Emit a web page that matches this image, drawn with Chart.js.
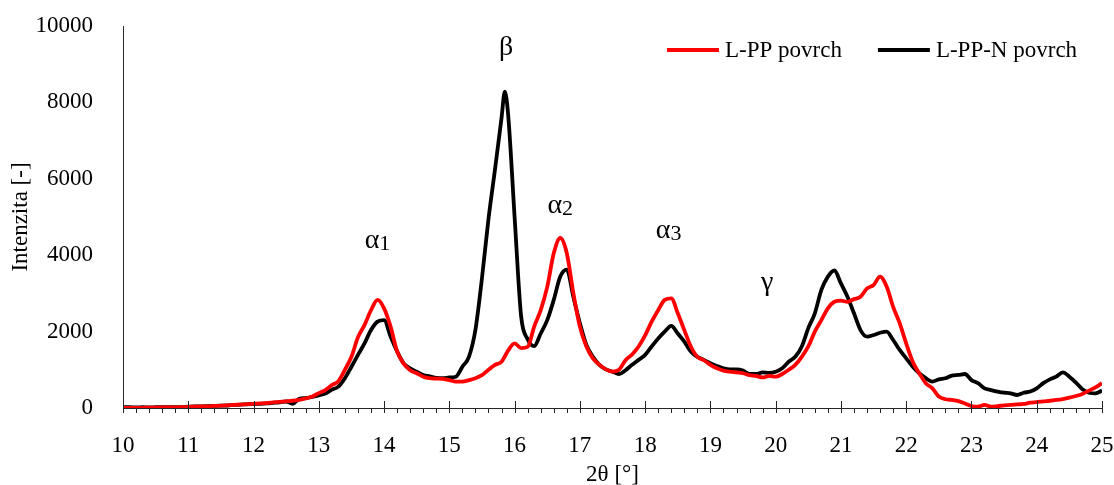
<!DOCTYPE html>
<html>
<head>
<meta charset="utf-8">
<script src="https://cdn.jsdelivr.net/npm/chart.js@4.4.1/dist/chart.umd.min.js"></script>
<style>
  html, body { margin: 0; padding: 0; background: #fff; }
  #xrd { display: block; }
</style>
</head>
<body>
<canvas id="xrd" width="1114" height="485"></canvas>
<script>
/* XRD patterns - L-PP vs L-PP-N surface */

// 2theta positions [deg]
const angles = [
  10.0, 10.1, 10.2, 10.3, 10.4, 10.5, 10.6, 10.7, 10.8, 10.9,
  11.0, 11.1, 11.2, 11.3, 11.4, 11.5, 11.6, 11.7, 11.8, 11.9,
  12.0, 12.1, 12.2, 12.3, 12.4, 12.5, 12.6, 12.7, 12.8, 12.9,
  13.0, 13.1, 13.2, 13.3, 13.4, 13.5, 13.6, 13.7, 13.8, 13.9,
  14.0, 14.1, 14.2, 14.3, 14.4, 14.5, 14.6, 14.7, 14.8, 14.9,
  15.0, 15.1, 15.2, 15.3, 15.4, 15.5, 15.6, 15.7, 15.8, 15.85, 15.9,
  16.0, 16.1, 16.2, 16.3, 16.4, 16.5, 16.6, 16.7, 16.8, 16.9,
  17.0, 17.1, 17.2, 17.3, 17.4, 17.5, 17.6, 17.7, 17.8, 17.9,
  18.0, 18.1, 18.2, 18.3, 18.4, 18.5, 18.6, 18.7, 18.8, 18.9,
  19.0, 19.1, 19.2, 19.3, 19.4, 19.5, 19.6, 19.7, 19.8, 19.9,
  20.0, 20.1, 20.2, 20.3, 20.4, 20.5, 20.6, 20.7, 20.8, 20.9,
  21.0, 21.1, 21.2, 21.3, 21.4, 21.5, 21.6, 21.7, 21.8, 21.9,
  22.0, 22.1, 22.2, 22.3, 22.4, 22.5, 22.6, 22.7, 22.8, 22.9,
  23.0, 23.1, 23.2, 23.3, 23.4, 23.5, 23.6, 23.7, 23.8, 23.9,
  24.0, 24.1, 24.2, 24.3, 24.4, 24.5, 24.6, 24.7, 24.8, 24.9,
  25.0
];

// L-PP povrch
const lppSurface = [
  0, 5, 0, 5, 10, 10, 15, 20, 15, 20,
  30, 35, 40, 45, 55, 60, 70, 80, 90, 100,
  110, 120, 130, 145, 160, 175, 190, 215, 250, 300,
  390, 470, 600, 700, 1000, 1340, 1850, 2170, 2560, 2830,
  2610, 2130, 1480, 1160, 990, 910, 820, 780, 770, 760,
  730, 690, 690, 730, 780, 860, 1000, 1130, 1210, 1350, 1500,
  1690, 1570, 1600, 2130, 2560, 3170, 4050, 4450, 4050, 3010,
  2130, 1610, 1300, 1130, 1010, 950, 1000, 1250, 1400, 1610,
  1900, 2260, 2560, 2830, 2870, 2480, 2040, 1610, 1340, 1250,
  1130, 1040, 980, 950, 930, 910, 860, 840, 800, 840,
  820, 890, 1000, 1130, 1340, 1610, 2000, 2300, 2610, 2780,
  2810, 2780, 2850, 2910, 3130, 3220, 3440, 3180, 2650, 2220,
  1690, 1210, 910, 650, 515, 300, 230, 210, 180, 120,
  50, 35, 80, 35, 50, 70, 80, 95, 105, 140,
  155, 175, 190, 210, 235, 270, 315, 365, 455, 540,
  650
];

// L-PP-N povrch
const lppnSurface = [
  20, 20, 15, 20, 15, 20, 25, 20, 25, 20,
  35, 45, 40, 50, 55, 60, 65, 80, 90, 95,
  105, 110, 120, 135, 150, 170, 110, 240, 260, 290,
  330, 380, 480, 560, 780, 1080, 1390, 1690, 2040, 2260,
  2300, 1870, 1480, 1170, 1040, 950, 860, 830, 790, 780,
  800, 820, 1080, 1340, 2050, 3400, 4950, 6250, 7600, 8280, 7700,
  5000, 2400, 1800, 1620, 1950, 2300, 2830, 3440, 3620, 2910,
  2220, 1650, 1340, 1130, 1010, 950, 890, 990, 1130, 1260,
  1390, 1610, 1820, 2000, 2150, 1950, 1740, 1480, 1340, 1260,
  1170, 1100, 1040, 1010, 1010, 980, 890, 890, 930, 920,
  950, 1040, 1210, 1340, 1610, 2090, 2480, 3090, 3440, 3600,
  3260, 2910, 2480, 2040, 1870, 1910, 1970, 2000, 1780, 1520,
  1300, 1080, 910, 780, 690, 750, 780, 850, 865, 890,
  730, 650, 515, 470, 430, 400, 385, 340, 400, 430,
  515, 650, 750, 820, 935, 820, 665, 490, 400, 385,
  455
];

const seriesLabels = ['L-PP povrch', 'L-PP-N povrch'];

// peak labels (greek letter + subscript), anchored in data units
const peakGreek = ['α', 'β', 'α', 'α', 'γ'];
const peakSub = ['1', '', '2', '3', ''];
const peakAngles = [13.90, 15.87, 16.70, 18.36, 19.87];
const peakHeights = [4190, 9240, 5100, 4450, 3090];

const FONT = "'Liberation Serif', 'Times New Roman', serif";
const COLORS = { red: '#ff0000', black: '#000000', axis: '#262626' };

function toPoints(ys) {
  return ys.map((y, i) => ({ x: angles[i], y }));
}

// minor (0.2) and major (1) ticks on x axis, drawn on the library scale
const xTickMarks = {
  id: 'xTickMarks',
  afterDraw(chart) {
    const { ctx, scales: { x } } = chart;
    const yb = x.top;
    ctx.save();
    ctx.strokeStyle = COLORS.axis;
    ctx.lineWidth = 1;
    for (let k = 0; k <= 75; k++) {
      const v = x.min + k * 0.2;
      const px = Math.round(x.getPixelForValue(v)) + 0.5;
      const major = k % 5 === 0;
      ctx.beginPath();
      ctx.moveTo(px, major ? yb - 7 : yb);
      ctx.lineTo(px, yb + 5);
      ctx.stroke();
    }
    ctx.restore();
  }
};

// greek peak annotations
const peakNotes = {
  id: 'peakNotes',
  afterDatasetsDraw(chart) {
    const { ctx, scales: { x, y } } = chart;
    ctx.save();
    ctx.fillStyle = '#000';
    ctx.textBaseline = 'alphabetic';
    ctx.textAlign = 'left';
    peakGreek.forEach((g, i) => {
      const big = '28px ' + FONT, small = '22px ' + FONT;
      ctx.font = big;
      const wg = ctx.measureText(g).width;
      ctx.font = small;
      const ws = peakSub[i] ? ctx.measureText(peakSub[i]).width : 0;
      const cx = x.getPixelForValue(peakAngles[i]);
      const by = y.getPixelForValue(peakHeights[i]);
      const left = cx - (wg + ws) / 2;
      ctx.font = big;
      ctx.fillText(g, left, by);
      if (peakSub[i]) {
        ctx.font = small;
        ctx.fillText(peakSub[i], left + wg, by + 2);
      }
    });
    ctx.restore();
  }
};

// legend drawn inside plot, top right
const innerLegend = {
  id: 'innerLegend',
  afterDraw(chart) {
    const { ctx } = chart;
    let px = 667;
    const py = 50;
    ctx.save();
    ctx.font = '23px ' + FONT;
    ctx.textBaseline = 'middle';
    ctx.textAlign = 'left';
    chart.data.datasets.forEach(ds => {
      ctx.strokeStyle = ds.borderColor;
      ctx.lineWidth = 4;
      ctx.beginPath();
      ctx.moveTo(px, py);
      ctx.lineTo(px + 52, py);
      ctx.stroke();
      ctx.fillStyle = '#000';
      ctx.fillText(ds.label, px + 58, py + 1);
      px += 58 + ctx.measureText(ds.label).width + 36;
    });
    ctx.restore();
  }
};

function createXrdChart(canvasId) {
  const canvas = document.getElementById(canvasId);
  if (!canvas || typeof Chart === 'undefined') return;
  const ctx = canvas.getContext('2d');
  return new Chart(ctx, {
    type: 'line',
    data: {
      datasets: [{
        label: seriesLabels[0],
        data: toPoints(lppSurface),
        borderColor: COLORS.red,
        borderWidth: 3.8,
        pointRadius: 0,
        cubicInterpolationMode: 'monotone',
        fill: false,
      }, {
        label: seriesLabels[1],
        data: toPoints(lppnSurface),
        borderColor: COLORS.black,
        borderWidth: 3.8,
        pointRadius: 0,
        cubicInterpolationMode: 'monotone',
        fill: false,
      }]
    },
    options: {
      responsive: false,
      animation: false,
      devicePixelRatio: 1,
      layout: { padding: { top: 26, right: 12, left: 0, bottom: 0 } },
      plugins: {
        legend: { display: false },
        tooltip: { enabled: false }
      },
      scales: {
        x: {
          type: 'linear', min: 10, max: 25,
          grid: { display: false },
          border: { display: true, color: COLORS.axis, width: 1 },
          ticks: { stepSize: 1, padding: 16, color: '#000', font: { family: FONT, size: 23 } },
          title: { display: true, text: '2θ [°]', color: '#000', font: { family: FONT, size: 23 }, padding: { top: 0, bottom: -4 } },
          afterFit: s => { s.height = 77; s.paddingLeft = 0; s.paddingRight = 0; }
        },
        y: {
          min: 0, max: 10000,
          grid: { display: false },
          border: { display: true, color: COLORS.axis, width: 1 },
          ticks: { stepSize: 2000, padding: 22, color: '#000', font: { family: FONT, size: 23 },
            callback: v => String(v) },
          title: { display: true, text: 'Intenzita [-]', color: '#000', font: { family: FONT, size: 23 }, padding: { top: 7, bottom: 0 } },
          afterFit: s => { s.width = 123; s.paddingTop = 0; s.paddingBottom = 0; }
        }
      }
    },
    plugins: [xTickMarks, peakNotes, innerLegend]
  });
}

createXrdChart('xrd');
</script>
</body>
</html>
